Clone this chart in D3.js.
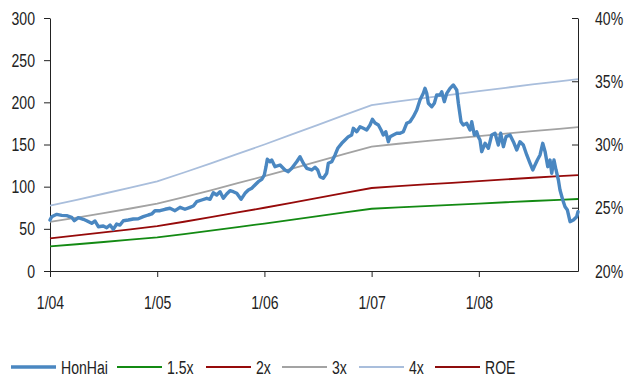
<!DOCTYPE html>
<html>
<head>
<meta charset="utf-8">
<script src="https://cdn.jsdelivr.net/npm/d3@7"></script>
<style>
  body { margin: 0; background: #fff; }
  svg text { font-family: "Liberation Sans", Arial, sans-serif; font-size: 19px; fill: #222; }
</style>
</head>
<body>
<svg id="chart" width="626" height="378"></svg>
<script>
// Hon Hai share price (decimal year, price)
const hhTime = [
  2004.000, 2004.016, 2004.063, 2004.109, 2004.156, 2004.202, 2004.227, 2004.264, 2004.311, 2004.342,
  2004.389, 2004.420, 2004.451, 2004.497, 2004.529, 2004.560, 2004.590, 2004.622, 2004.653, 2004.684,
  2004.730, 2004.777, 2004.824, 2004.870, 2004.917, 2004.949, 2004.979, 2005.026, 2005.073, 2005.119,
  2005.166, 2005.213, 2005.259, 2005.306, 2005.337, 2005.368, 2005.415, 2005.462, 2005.493, 2005.523,
  2005.555, 2005.586, 2005.617, 2005.648, 2005.679, 2005.710, 2005.742, 2005.782, 2005.819, 2005.850,
  2005.882, 2005.912, 2005.943, 2005.975, 2005.999, 2006.015, 2006.027, 2006.052, 2006.068, 2006.099,
  2006.146, 2006.192, 2006.223, 2006.255, 2006.301, 2006.332, 2006.363, 2006.395, 2006.441, 2006.472,
  2006.497, 2006.519, 2006.549, 2006.581, 2006.596, 2006.628, 2006.659, 2006.684, 2006.721, 2006.752,
  2006.783, 2006.814, 2006.829, 2006.861, 2006.892, 2006.923, 2006.954, 2006.985, 2007.007, 2007.032,
  2007.063, 2007.088, 2007.109, 2007.132, 2007.156, 2007.172, 2007.202, 2007.234, 2007.265, 2007.296,
  2007.327, 2007.358, 2007.389, 2007.421, 2007.451, 2007.482, 2007.498, 2007.514, 2007.529, 2007.561,
  2007.585, 2007.607, 2007.638, 2007.654, 2007.678, 2007.701, 2007.731, 2007.762, 2007.794, 2007.809,
  2007.834, 2007.855, 2007.887, 2007.918, 2007.934, 2007.958, 2007.980, 2007.995, 2008.011, 2008.027,
  2008.058, 2008.089, 2008.120, 2008.151, 2008.182, 2008.204, 2008.229, 2008.254, 2008.291, 2008.322,
  2008.354, 2008.384, 2008.415, 2008.447, 2008.478, 2008.503, 2008.524, 2008.546, 2008.571, 2008.596,
  2008.618, 2008.643, 2008.664, 2008.680, 2008.701, 2008.720, 2008.742, 2008.757, 2008.783, 2008.804,
  2008.826, 2008.851, 2008.882, 2008.913, 2008.925
];
const hhPrice = [
  60.5, 64.4, 67.2, 66.0, 65.6, 63.7, 59.6, 63.2, 61.3, 59.6,
  56.5, 59.3, 52.5, 53.4, 51.3, 54.5, 49.4, 55.7, 54.5, 59.6,
  60.5, 61.7, 62.0, 64.4, 66.4, 67.6, 71.5, 71.5, 73.2, 74.4,
  71.5, 75.5, 73.2, 75.5, 77.1, 82.2, 84.2, 86.2, 85.0, 92.8,
  90.1, 94.0, 86.2, 91.3, 95.2, 94.0, 92.1, 85.0, 92.1, 96.0,
  98.1, 102.0, 105.9, 108.7, 113.8, 123.7, 132.5, 129.6, 131.6, 123.7,
  125.7, 119.8, 117.8, 121.8, 129.6, 135.5, 127.7, 121.8, 119.8, 123.0,
  119.8, 111.8, 109.9, 115.9, 127.7, 129.6, 137.6, 145.5, 151.4, 155.3,
  159.3, 161.3, 169.2, 165.2, 171.1, 169.2, 167.2, 173.1, 179.9, 175.5,
  173.1, 167.2, 161.3, 165.2, 153.3, 159.3, 161.3, 163.3, 163.3, 165.2,
  175.1, 177.0, 183.0, 190.9, 202.8, 210.7, 216.6, 210.7, 198.9, 194.8,
  198.9, 208.7, 208.7, 212.6, 200.8, 210.7, 216.6, 220.6, 214.6, 198.9,
  177.0, 173.1, 175.1, 167.2, 177.0, 161.3, 165.2, 159.3, 155.3, 141.5,
  151.4, 145.5, 161.3, 163.3, 149.4, 163.3, 147.4, 159.3, 161.3, 153.3,
  143.5, 153.3, 149.4, 137.6, 127.7, 119.8, 125.7, 131.6, 137.6, 151.4,
  141.5, 123.7, 131.6, 115.9, 131.6, 119.8, 107.9, 96.0, 84.2, 76.2,
  72.3, 58.5, 60.5, 64.4, 70.3
];

// Price-to-book bands (quarterly)
const bandTime = [
  2004.00, 2004.25, 2004.50, 2004.75, 2005.00, 2005.25, 2005.50, 2005.75, 2006.00, 2006.25,
  2006.50, 2006.75, 2007.00, 2007.25, 2007.50, 2007.75, 2008.00, 2008.25, 2008.50, 2008.75, 2008.925
];
const band15 = [29.1, 31.7, 34.4, 37.1, 39.9, 43.8, 47.9, 52.1, 56.3, 60.6, 65.0, 69.5, 73.8, 75.5, 77.0, 78.5, 80.0, 81.5, 83.0, 84.3, 85.4];
const band2  = [38.8, 42.2, 45.8, 49.4, 53.2, 58.4, 63.8, 69.4, 75.0, 80.8, 86.6, 92.6, 98.4, 100.6, 102.6, 104.6, 106.6, 108.6, 110.6, 112.4, 113.8];
const band3  = [58.2, 63.3, 68.7, 74.1, 79.8, 87.6, 95.7, 104.1, 112.5, 121.2, 129.9, 138.9, 147.6, 150.9, 153.9, 156.9, 159.9, 162.9, 165.9, 168.6, 170.7];
const band4  = [77.6, 84.4, 91.6, 98.8, 106.4, 116.8, 127.6, 138.8, 150.0, 161.6, 173.2, 185.2, 196.8, 201.2, 205.2, 209.2, 213.2, 217.2, 221.2, 224.8, 227.6];

// Axis ticks
const xTickYears = [2004, 2005, 2006, 2007, 2008];
const xTickLabels = ["1/04", "1/05", "1/06", "1/07", "1/08"];
const leftTicks = [0, 50, 100, 150, 200, 250, 300];
const rightTicks = [0.20, 0.25, 0.30, 0.35, 0.40];

// Legend entries
const legendNames = ["HonHai", "1.5x", "2x", "3x", "4x", "ROE"];
const colors = {
  "HonHai": "#4a87c1",
  "1.5x": "#138a13",
  "2x": "#960a0a",
  "3x": "#a3a3a3",
  "4x": "#a9bedc",
  "ROE": "#8e0d0d"
};

const svg = d3.select("#chart");
const plot = { left: 50, right: 578, top: 18, bottom: 271 };
const narrow = 0.74; // horizontal squeeze for a condensed look

// Squeeze text horizontally around its own anchor point
function condense(sel) {
  sel.each(function () {
    const t = d3.select(this);
    const tx = +t.attr("x") || 0, ty = +t.attr("y") || 0;
    t.attr("x", 0).attr("y", 0)
     .attr("transform", `translate(${tx},${ty}) scale(${narrow},1)`);
  });
}

const x = d3.scaleLinear().domain([2004, hhTime[hhTime.length - 1]]).range([plot.left, plot.right]);
const yL = d3.scaleLinear().domain([0, 300]).range([plot.bottom, plot.top]);
const yR = d3.scaleLinear().domain([0.20, 0.40]).range([plot.bottom, plot.top]);

// Axes
const axisStyle = g => {
  g.selectAll("path.domain").attr("stroke", "#222").attr("stroke-width", 1);
  g.selectAll(".tick line").attr("stroke", "#222").attr("stroke-width", 1);
  g.selectAll("text").attr("font-size", null).attr("font-family", null).attr("fill", null).call(condense);
};

svg.append("g")
  .attr("transform", `translate(${plot.left},0)`)
  .call(d3.axisLeft(yL).tickValues(leftTicks).tickSize(6).tickSizeOuter(0).tickPadding(9))
  .call(axisStyle);

svg.append("g")
  .attr("transform", `translate(${plot.right},0)`)
  .call(d3.axisRight(yR).tickValues(rightTicks).tickSize(-6).tickSizeOuter(0).tickPadding(17)
    .tickFormat(d3.format(".0%")))
  .call(axisStyle);

svg.append("g")
  .attr("transform", `translate(0,${plot.bottom})`)
  .call(d3.axisBottom(x).tickValues(xTickYears).tickSize(6).tickSizeOuter(0).tickPadding(19)
    .tickFormat((d, i) => xTickLabels[i]))
  .call(axisStyle);

// Lines
const line = (times, vals) => d3.line()
  .x((d, i) => x(times[i]))
  .y(d => yL(d))(vals);

const bands = [["1.5x", band15], ["2x", band2], ["3x", band3], ["4x", band4]];
svg.append("g").selectAll("path")
  .data(bands)
  .join("path")
  .attr("d", d => line(bandTime, d[1]))
  .attr("fill", "none")
  .attr("stroke", d => colors[d[0]])
  .attr("stroke-width", 1.8);

svg.append("path")
  .attr("d", line(hhTime, hhPrice))
  .attr("fill", "none")
  .attr("stroke", colors["HonHai"])
  .attr("stroke-width", 3.4)
  .attr("stroke-linejoin", "round")
  .attr("stroke-linecap", "round");

// Legend
const legendX = [11, 117, 206, 282, 359, 435];
const legendY = 367;
const lg = svg.append("g").selectAll("g")
  .data(legendNames)
  .join("g")
  .attr("transform", (d, i) => `translate(${legendX[i]},${legendY})`);
lg.append("line")
  .attr("x1", 0).attr("x2", 45).attr("y1", 0).attr("y2", 0)
  .attr("stroke", d => colors[d])
  .attr("stroke-width", d => d === "HonHai" ? 3.5 : 1.8);
lg.append("text")
  .attr("x", 50).attr("y", 0).attr("dy", "0.36em")
  .text(d => d)
  .call(condense);
</script>
</body>
</html>
